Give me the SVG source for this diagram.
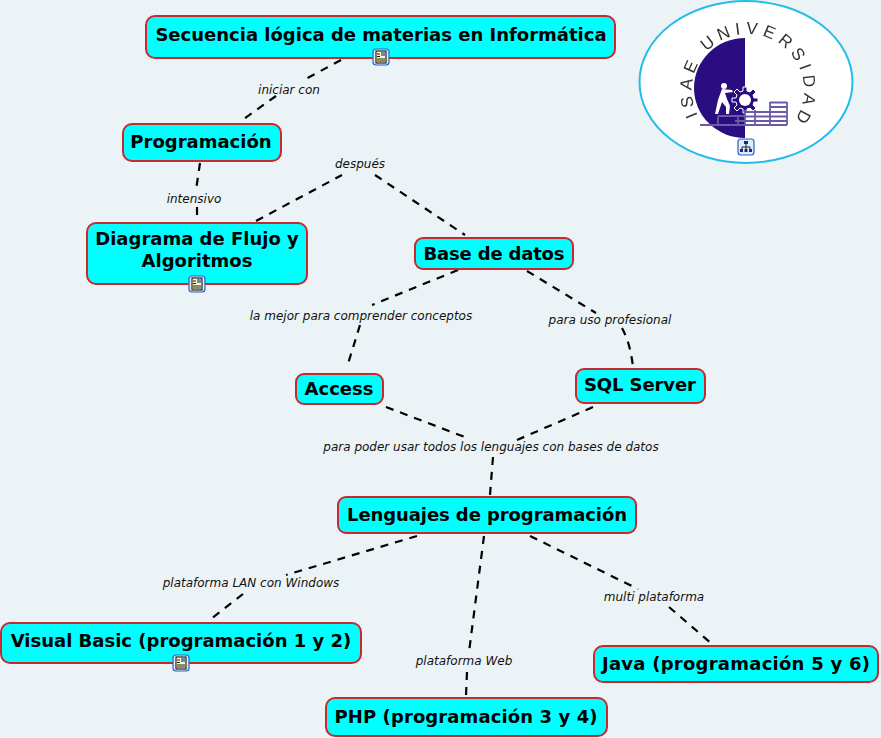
<svg xmlns="http://www.w3.org/2000/svg" width="881" height="738" viewBox="0 0 881 738">
<style>
.bg{fill:#ecf3f6}
.n{fill:#00ffff;stroke:#c8282e;stroke-width:2}
.t{font-family:"DejaVu Sans",Verdana,sans-serif;font-weight:bold;font-size:18px;fill:#000;text-anchor:middle}
.l{font-family:"DejaVu Sans",Verdana,sans-serif;font-style:italic;font-size:12px;fill:#111;text-anchor:middle}
.c{fill:none;stroke:#000;stroke-width:2.2;stroke-dasharray:8 7}
.b{fill:#dfeafa;stroke:#2a62c0;stroke-width:1.2}
.p{fill:#fff8c0;stroke:#000;stroke-width:1}
.s{fill:none;stroke:#6a5aa8;stroke-width:1.8}
</style>
<defs>
<g id="doc"><rect class="b" x="-8" y="-8" width="16" height="16" rx="3"/><rect class="p" x="-5" y="-6" width="10" height="12"/><path d="M-4-3h3M-4-.5h3M-4 2h8M-4 4h8" stroke="#000" stroke-width=".9"/><rect x="0" y="-5" width="4" height="4" fill="#6a88b8"/></g>
<filter id="soft" x="-5%" y="-5%" width="110%" height="110%"><feGaussianBlur stdDeviation=".45"/></filter>
</defs>
<rect class="bg" width="881" height="738"/>
<g id="connectors">
<path class="c" d="M341 60L302 81"/><path class="c" d="M276 96L241 121"/>
<path class="c" d="M200 163L196 190"/><path class="c" d="M197 207L197 216"/>
<path class="c" d="M256 221L342 175"/><path class="c" d="M375 175L465 235"/>
<path class="c" d="M458 270L372 305"/><path class="c" d="M360 325L347 367"/>
<path class="c" d="M527 271L596 313"/><path class="c" d="M622 328Q631 345 633 368"/>
<path class="c" d="M386 407L470 439"/><path class="c" d="M593 407L517 440"/>
<path class="c" d="M493 457L490 495"/>
<path class="c" d="M417 536L286 575"/><path class="c" d="M243 594L211 619"/>
<path class="c" d="M484 536L469 652"/><path class="c" d="M467 672L466 696"/>
<path class="c" d="M530 536L638 589"/><path class="c" d="M669 607L712 644"/>
</g>
<g id="link-labels">
<text class="l" x="289" y="94">iniciar con</text>
<text class="l" x="194" y="203">intensivo</text>
<text class="l" x="360" y="168">después</text>
<text class="l" x="361" y="320">la mejor para comprender conceptos</text>
<text class="l" x="610" y="324">para uso profesional</text>
<text class="l" x="491" y="451">para poder usar todos los lenguajes con bases de datos</text>
<text class="l" x="251" y="587">plataforma LAN con Windows</text>
<text class="l" x="464" y="665">plataforma Web</text>
<text class="l" x="654" y="601">multi plataforma</text>
</g>
<g id="n1"><rect class="n" x="146" y="16" width="469" height="42" rx="9"/><text class="t" x="381" y="41">Secuencia lógica de materias en Informática</text><use href="#doc" x="381" y="57"/></g>
<g id="n2"><rect class="n" x="123" y="124" width="158" height="37" rx="9"/><text class="t" x="201" y="148">Programación</text></g>
<g id="n3"><rect class="n" x="87" y="223" width="220" height="61" rx="9"/><text class="t" x="197" y="245">Diagrama de Flujo y</text><text class="t" x="197" y="267">Algoritmos</text><use href="#doc" x="197" y="284"/></g>
<g id="n4"><rect class="n" x="415" y="238" width="158" height="31" rx="8"/><text class="t" x="494" y="260" textLength="141">Base de datos</text></g>
<g id="n5"><rect class="n" x="296" y="374" width="87" height="30" rx="8"/><text class="t" x="339" y="395">Access</text></g>
<g id="n6"><rect class="n" x="576" y="369" width="129" height="34" rx="8"/><text class="t" x="640" y="391" textLength="112">SQL Server</text></g>
<g id="n7"><rect class="n" x="338" y="497" width="298" height="36" rx="8"/><text class="t" x="487" y="521" textLength="280">Lenguajes de programación</text></g>
<g id="n8"><rect class="n" x="1" y="623" width="360" height="40" rx="9"/><text class="t" x="181" y="647">Visual Basic (programación 1 y 2)</text><use href="#doc" x="181" y="663"/></g>
<g id="n9"><rect class="n" x="594" y="646" width="284" height="36" rx="9"/><text class="t" x="736" y="670" textLength="268">Java (programación 5 y 6)</text></g>
<g id="n10"><rect class="n" x="326" y="698" width="281" height="38" rx="9"/><text class="t" x="466" y="723" textLength="263">PHP (programación 3 y 4)</text></g>
<g id="logo">
<ellipse cx="746" cy="82" rx="106.500" ry="81" fill="#fff" stroke="#22bdea" stroke-width="2"/>
<g filter="url(#soft)">
<path d="M745 38A51 50 0 0 0 745 138Z" fill="#2a0f80"/>
<circle cx="724" cy="86" r="3" fill="#fff"/>
<path d="M722 89l10 1 1 2-8 1 2 6 3 7-1 8h-3l0-7-4-5-4 12h-3l3-14z" fill="#fff"/>
<path fill="#2a0f80" stroke="#fff" stroke-width="1" d="M743 87h4v4l3 1 3-3 3 3-3 3 1 3h4v4h-4l-1 3 3 3-3 3-3-3-3 1v4h-4v-4l-3-1-3 3-3-3 3-3-1-3h-4v-4h4l1-3-3-3 3-3 3 3 3-1z"/>
<circle cx="745" cy="100" r="6" fill="#fff"/>
<path class="s" d="M770 102.500H787M770 107H787M745 112H787M745 116.500H787M735 121H787M700 125H787M770 102V125M787 102V125M755 110V125M745 110V125M718 116H745M718 116V125M738 116V125"/>
<text font-family="'Liberation Sans',Arial,sans-serif" font-size="17" fill="#333" letter-spacing="4.900"><textPath href="#arc">ISAE UNIVERSIDAD</textPath></text>
</g>
<path id="arc" d="M698 115.400A56 56 0 1 1 788 129" fill="none"/>
<g transform="translate(746,147)"><rect class="b" x="-8" y="-8" width="16" height="16" rx="3"/><path d="M0-5V-2M-4 3V0H4V3M0-2V3" fill="none" stroke="#223" stroke-width="1"/><path d="M-2-6h4v3h-4zM-6 2h3v3h-3zM-1.500 2h3v3h-3zM3 2h3v3h-3z" fill="#1b2a80"/></g>
</g>
</svg>
